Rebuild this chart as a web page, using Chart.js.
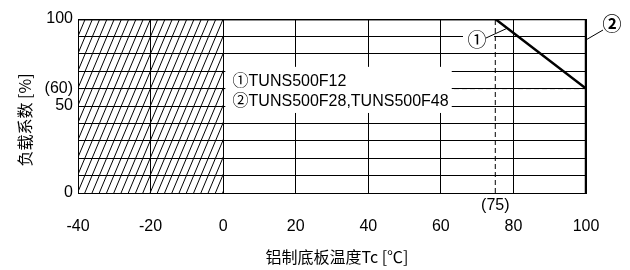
<!DOCTYPE html>
<html>
<head>
<meta charset="utf-8">
<script src="https://cdn.jsdelivr.net/npm/chart.js@4/dist/chart.umd.min.js"></script>
<style>
  html, body { margin: 0; padding: 0; background: #fff; }
</style>
</head>
<body>
<canvas id="chart" width="630" height="270"></canvas>
<script>
// derating curves: case temperature [°C] vs load factor [%]
const curve1Temp = [-40, 75, 100];
const curve1Load = [100, 100, 60];
const curve2Temp = [-40, 100, 100];
const curve2Load = [100, 100, 0];

// dashed reference lines
const refVTemp = [75, 75];
const refVLoad = [0, 100];
const refHTemp = [-40, 100];
const refHLoad = [60, 60];

const hatchRange = [-40, 0];
const xTicks = [-40, -20, 0, 20, 40, 60, 80, 100];
const yTickLabels = { 0: '0', 50: '50', 60: '(60)', 100: '100' };
const refTempLabel = '(75)';
const legendLines = ['①TUNS500F12', '②TUNS500F28,TUNS500F48'];
const xTitle = '铝制底板温度Tc [℃]';
const yTitle = '负载系数 [%]';

const FONT = '"Liberation Sans", Arial, "Noto Sans CJK SC", sans-serif';
const CJK = '"Noto Sans CJK SC", "Liberation Sans", sans-serif';

function zip(xs, ys) {
    return xs.map((x, i) => ({ x: x, y: ys[i] }));
}

function circled(ctx, txt, cx, cy, weight) {
    ctx.font = weight + ' 19px ' + CJK;
    ctx.textAlign = 'center';
    ctx.textBaseline = 'middle';
    ctx.fillText(txt, cx, cy);
}

const overlay = {
    id: 'overlay',
    beforeDatasetsDraw(chart) {
        const { ctx, chartArea, scales } = chart;
        const x0 = scales.x.getPixelForValue(hatchRange[0]);
        const x1 = scales.x.getPixelForValue(hatchRange[1]);
        const top = chartArea.top, bottom = chartArea.bottom;
        const h = bottom - top;
        const step = scales.x.getPixelForValue(2) - scales.x.getPixelForValue(0);
        ctx.save();
        ctx.beginPath();
        ctx.rect(x0, top, x1 - x0, h);
        ctx.clip();
        ctx.strokeStyle = '#000';
        ctx.lineWidth = 1;
        ctx.beginPath();
        for (let x = x0 - h * 0.42; x < x1 + step; x += step) {
            ctx.moveTo(x, bottom);
            ctx.lineTo(x + h * 0.42, top);
        }
        ctx.stroke();
        ctx.restore();
    },
    afterDatasetsDraw(chart) {
        const { ctx, chartArea, scales } = chart;
        const xs = scales.x, ys = scales.y;
        ctx.save();

        // white box behind the model list
        ctx.fillStyle = '#fff';
        ctx.fillRect(xs.getPixelForValue(0.6), ys.getPixelForValue(72.5),
            xs.getPixelForValue(63) - xs.getPixelForValue(0.6),
            ys.getPixelForValue(46) - ys.getPixelForValue(72.5));
        // white gap behind callout 1
        ctx.fillRect(463, 28, 31, 21);

        ctx.fillStyle = '#000';
        ctx.font = '16px ' + FONT;
        ctx.textAlign = 'left';
        ctx.textBaseline = 'middle';
        ctx.fillText(legendLines[0], xs.getPixelForValue(2.6), 82);
        ctx.fillText(legendLines[1], xs.getPixelForValue(2.6), 102);

        // callouts
        ctx.strokeStyle = '#000';
        ctx.lineWidth = 1;
        ctx.beginPath();
        ctx.moveTo(486, 38);
        ctx.lineTo(xs.getPixelForValue(78.3), ys.getPixelForValue(94.7));
        ctx.moveTo(603, 30);
        ctx.lineTo(xs.getPixelForValue(100), ys.getPixelForValue(88));
        ctx.stroke();
        circled(ctx, '①', 477, 40, 'normal');
        circled(ctx, '②', 612, 24, 'bold');

        // (75) label under the axis
        ctx.font = '16px ' + FONT;
        ctx.textAlign = 'center';
        ctx.textBaseline = 'middle';
        ctx.fillText(refTempLabel, xs.getPixelForValue(refVTemp[0]), chartArea.bottom + 13);

        // axis titles
        ctx.font = '16px ' + CJK;
        ctx.fillText(xTitle, 337, 257);
        ctx.translate(25, 120);
        ctx.rotate(-Math.PI / 2);
        ctx.fillText(yTitle, 0, 0);
        ctx.restore();
    }
};

const solid = { borderColor: '#000', borderWidth: 2.5, pointRadius: 0, showLine: true, fill: false };
const dashed = { borderColor: '#000', borderWidth: 1, borderDash: [5, 3], pointRadius: 0, showLine: true, fill: false };

new Chart(document.getElementById('chart'), {
    type: 'scatter',
    data: {
        datasets: [
            { ...solid, data: zip(curve1Temp, curve1Load) },
            { ...solid, data: zip(curve2Temp, curve2Load) },
            { ...dashed, data: zip(refVTemp, refVLoad) },
            { ...dashed, data: zip(refHTemp, refHLoad) },
        ]
    },
    options: {
        responsive: false,
        animation: false,
        devicePixelRatio: 1,
        layout: { padding: { top: 19, right: 44, left: 0, bottom: 0 } },
        plugins: {
            legend: { display: false },
            tooltip: { enabled: false },
        },
        scales: {
            x: {
                type: 'linear',
                min: xTicks[0],
                max: xTicks[xTicks.length - 1],
                afterBuildTicks: (s) => { s.ticks = xTicks.map(v => ({ value: v })); },
                afterFit: (s) => { s.height = 77; },
                ticks: { color: '#000', font: { size: 16, family: FONT }, padding: 24, maxRotation: 0 },
                grid: { color: '#000', lineWidth: 1, drawTicks: false },
                border: { color: '#000', width: 1 },
            },
            y: {
                min: 0,
                max: 100,
                afterFit: (s) => { s.width = 78; },
                ticks: {
                    stepSize: 10,
                    autoSkip: false,
                    color: '#000',
                    font: { size: 16, family: FONT },
                    padding: 5,
                    callback: (v) => yTickLabels[v] ?? '',
                },
                grid: { color: '#000', lineWidth: 1, drawTicks: false },
                border: { color: '#000', width: 1 },
            },
        },
    },
    plugins: [overlay],
});
</script>
</body>
</html>
